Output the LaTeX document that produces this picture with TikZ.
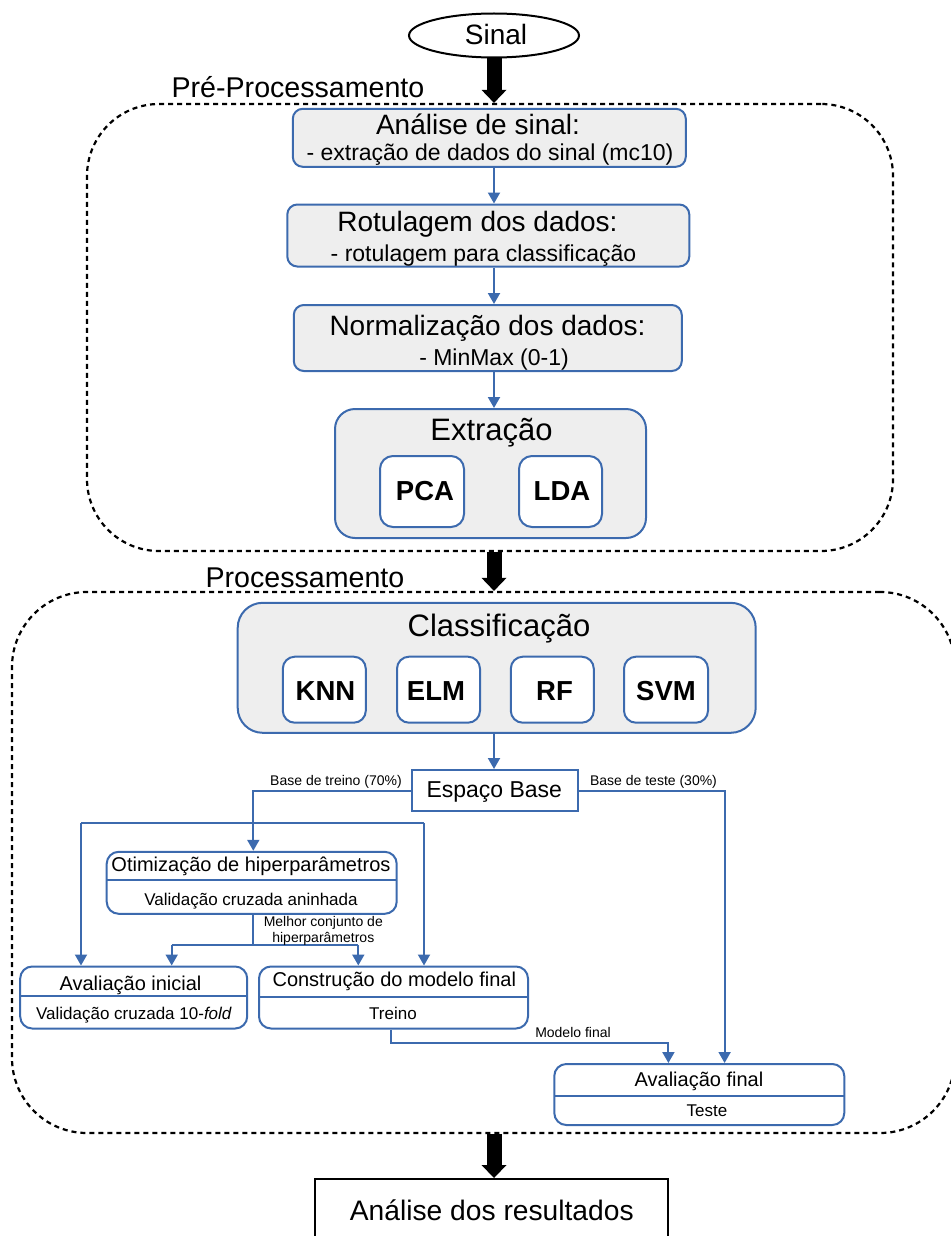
\documentclass[tikz,border=0pt]{standalone}
\usepackage{fontspec}
\setmainfont{Liberation Sans}
\usetikzlibrary{arrows.meta,shapes.geometric,calc}
\definecolor{bl}{RGB}{60,106,174}
\definecolor{gf}{RGB}{238,238,238}
\newcommand{\fsz}[1]{\fontsize{#1pt}{#1pt}\selectfont}
\begin{document}
\begin{tikzpicture}[x=1pt,y=-1pt,
  gbox/.style={draw=bl, line width=2pt, fill=gf, rounded corners=10pt, inner sep=0pt},
  wbox/.style={draw=bl, line width=2pt, fill=white, rounded corners=12pt, inner sep=0pt},
  sbox/.style={draw=bl, line width=2pt, fill=white, inner sep=0pt},
  area/.style={draw=black, line width=2.2pt, dash pattern=on 5pt off 4pt, rounded corners=72pt, inner sep=0pt},
  conn/.style={draw=bl, line width=2pt, -{Triangle[length=11pt,width=12pt]}},
  plain/.style={draw=bl, line width=2pt},
  divider/.style={draw=bl, line width=2pt},
  bigarrow/.style={draw=black, line width=15pt, -{Triangle[length=13pt,width=25pt,line width=0pt]}},
  txt/.style={anchor=base, inner sep=0pt, text=black}]
\useasboundingbox (0,0) rectangle (950,1236);

% ---- top ----
\node[draw=black, line width=2pt, ellipse, minimum width=170pt, minimum height=44pt, inner sep=0pt] (sinal) at (494,35.5) {};
\node[txt, font=\fsz{28}] (tsinal) at (496,45) {Sinal};

% ---- Pre-processamento area ----
\node[area, minimum width=806pt, minimum height=447pt] (pre) at (490,327.5) {};
\node[txt, font=\fsz{28.6}] (tpre) at (298,98) {Pré-Processamento};

\node[gbox, minimum width=393pt, minimum height=58pt] (analise) at (489.3,137.8) {};
\node[txt, font=\fsz{28}] (tan1) at (478,135) {Análise de sinal:};
\node[txt, font=\fsz{23}] (tan2) at (490,160) {- extração de dados do sinal (mc10)};

\node[gbox, minimum width=402pt, minimum height=62pt] (rotul) at (488.3,235.5) {};
\node[txt, font=\fsz{28}] (tro1) at (477.5,231.7) {Rotulagem dos dados:};
\node[txt, font=\fsz{23}] (tro2) at (483.5,261) {- rotulagem para classificação};

\node[gbox, minimum width=388pt, minimum height=66pt] (norm) at (487.8,338) {};
\node[txt, font=\fsz{28}] (tno1) at (487.5,335) {Normalização dos dados:};
\node[txt, font=\fsz{23}] (tno2) at (494,365) {- MinMax (0-1)};

\node[gbox, rounded corners=20pt, minimum width=311pt, minimum height=129pt] (extr) at (490.5,473.5) {};
\node[txt, font=\fsz{31}] (tex) at (491.5,440.7) {Extração};
\node[wbox, rounded corners=13pt, minimum width=84pt, minimum height=71pt] (pca) at (422,491.5) {};
\node[txt, font=\fsz{27.5}\bfseries] (tpca) at (425,500) {PCA};
\node[wbox, rounded corners=13pt, minimum width=83pt, minimum height=71pt] (lda) at (560.5,491.5) {};
\node[txt, font=\fsz{27.5}\bfseries] (tlda) at (562,500) {LDA};

% ---- Processamento area ----
\node[area, rounded corners=75pt, minimum width=943pt, minimum height=541pt] (proc) at (483.5,862.5) {};
\node[txt, font=\fsz{28.6}] (tproc) at (305,587) {Processamento};

\node[gbox, rounded corners=25pt, minimum width=518pt, minimum height=130pt] (class) at (496.7,667.8) {};
\node[txt, font=\fsz{31}] (tcl) at (499,636.7) {Classificação};
\node[wbox, minimum width=83pt, minimum height=66pt] (knn) at (324.3,689.7) {};
\node[txt, font=\fsz{27.5}\bfseries] (tknn) at (325.5,700) {KNN};
\node[wbox, minimum width=83pt, minimum height=66pt] (elm) at (438.5,689.7) {};
\node[txt, font=\fsz{27.5}\bfseries] (telm) at (436,700) {ELM};
\node[wbox, minimum width=83pt, minimum height=66pt] (rf) at (552.3,689.7) {};
\node[txt, font=\fsz{27.5}\bfseries] (trf) at (554.5,700) {RF};
\node[wbox, minimum width=84pt, minimum height=66pt] (svm) at (666,689.7) {};
\node[txt, font=\fsz{27.5}\bfseries] (tsvm) at (666,700) {SVM};

\node[sbox, minimum width=166pt, minimum height=41pt] (espaco) at (494.5,790.5) {};
\node[txt, font=\fsz{23}] (tesp) at (494.3,797) {Espaço Base};

\node[wbox, minimum width=290pt, minimum height=62pt] (otim) at (251.7,882.8) {};
\draw[divider] (106.7,880) -- (396.7,880);
\node[txt, font=\fsz{20}] (tot1) at (251,871.7) {Otimização de hiperparâmetros};
\node[txt, font=\fsz{17}] (tot2) at (251,905.7) {Validação cruzada aninhada};

\node[wbox, minimum width=227pt, minimum height=62pt] (avini) at (133.7,997.5) {};
\draw[divider] (20.2,996) -- (247.2,996);
\node[txt, font=\fsz{20}] (tai1) at (130.5,990) {Avaliação inicial};
\node[txt, font=\fsz{17}] (tai2) at (134,1019.3) {Validação cruzada 10-\textit{fold}};

\node[wbox, minimum width=269pt, minimum height=62pt] (constr) at (393.5,997.5) {};
\draw[divider] (259,997.3) -- (528,997.3);
\node[txt, font=\fsz{20}] (tco1) at (394.3,986.7) {Construção do modelo final};
\node[txt, font=\fsz{17}] (tco2) at (393,1019) {Treino};

\node[wbox, minimum width=290pt, minimum height=61pt] (avfin) at (699.3,1094.5) {};
\draw[divider] (554.3,1096) -- (844.3,1096);
\node[txt, font=\fsz{20}] (taf1) at (699,1086.7) {Avaliação final};
\node[txt, font=\fsz{17}] (taf2) at (707,1116.7) {Teste};

% ---- result ----
\node[draw=black, line width=2pt, fill=white, minimum width=352.7pt, minimum height=71pt, inner sep=0pt] (result) at (491.4,1214.5) {};
\node[txt, font=\fsz{28.2}] (tres) at (491.8,1220) {Análise dos resultados};

% ---- thick arrows ----
\draw[bigarrow] (sinal.south -| 494,0) -- (pre.north -| 494,0);
\draw[bigarrow] (pre.south -| 494,0) -- (proc.north -| 494,0);
\draw[bigarrow] (proc.south -| 494,0) -- (result.north -| 494,0);

% ---- thin connectors in pre ----
\draw[conn] (analise.south -| 494,0) -- (rotul.north -| 494,0);
\draw[conn] (rotul.south -| 494,0) -- (norm.north -| 494,0);
\draw[conn] (norm.south -| 494,0) -- (extr.north -| 494,0);

% ---- processing connectors ----
\draw[conn] (class.south -| 494,0) -- (espaco.north -| 494,0);
\coordinate (trx) at (253.3,790.5);
\draw[conn] (espaco.west) -- (trx) -- (trx |- otim.north);
\coordinate (brl) at (81,823.3);
\coordinate (brr) at (424,823.3);
\draw[plain] (brl) -- (brr);
\draw[conn] (brl) -- (brl |- avini.north);
\draw[conn] (brr) -- (brr |- constr.north);
\node[txt, font=\fsz{14}] (ltr) at (336,785) {Base de treino (70\%)};

\coordinate (tex1) at (724.6,790.5);
\draw[conn] (espaco.east) -- (tex1) -- (tex1 |- avfin.north);
\node[txt, font=\fsz{14}] (lte) at (653.5,785) {Base de teste (30\%)};

\coordinate (mbl) at (171.7,945);
\coordinate (mbr) at (358.3,945);
\draw[plain] (otim.south -| 253.3,0) -- (253.3,945);
\draw[plain] (mbl) -- (mbr);
\draw[conn] (mbl) -- (mbl |- avini.north);
\draw[conn] (mbr) -- (mbr |- constr.north);
\node[txt, font=\fsz{14}] (lmc1) at (323.3,926.7) {Melhor conjunto de};
\node[txt, font=\fsz{14}] (lmc2) at (323.3,942.7) {hiperparâmetros};

\coordinate (mf0) at (390.7,1042.7);
\coordinate (mf1) at (668.4,1042.7);
\draw[conn] (constr.south -| mf0) -- (mf0) -- (mf1) -- (mf1 |- avfin.north);
\node[txt, font=\fsz{14}] (lmf) at (573,1037) {Modelo final};
\end{tikzpicture}
\end{document}
